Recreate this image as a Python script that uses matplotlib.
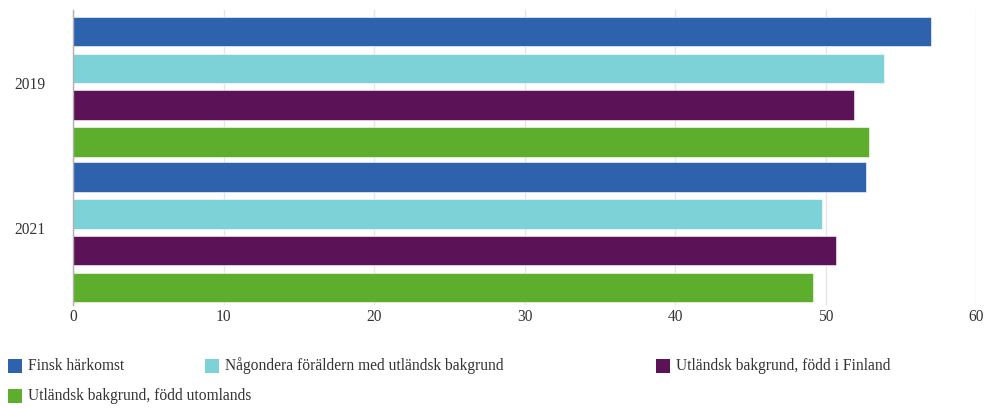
import matplotlib
matplotlib.use("Agg")
import matplotlib.pyplot as plt
from matplotlib.patches import Rectangle
import matplotlib.transforms as mtransforms
import numpy as np

years = ["2019", "2021"]
series_names = [
    "Finsk härkomst",
    "Någondera föräldern med utländsk bakgrund",
    "Utländsk bakgrund, född i Finland",
    "Utländsk bakgrund, född utomlands",
]
finsk = [57.0, 52.7]
nagondera = [53.9, 49.8]
utl_finland = [51.9, 50.7]
utl_utomlands = [52.9, 49.2]
series_values = [finsk, nagondera, utl_finland, utl_utomlands]
colors = ["#2F62AD", "#7DD2D8", "#5B1256", "#5EAE2E"]
x_ticks = [0, 10, 20, 30, 40, 50, 60]

plt.rcParams["font.family"] = ["Liberation Serif", "DejaVu Serif"]
FS = 11.2

W, H = 986, 408
fig = plt.figure(figsize=(W / 100, H / 100), dpi=100)
ax_left, ax_right, ax_top, ax_bottom = 73, 976, 10, 305
ax = fig.add_axes([ax_left / W, 1 - ax_bottom / H, (ax_right - ax_left) / W, (ax_bottom - ax_top) / H])

pitch = 0.253
bar_h = 0.203
y = np.arange(len(years))
for i, (vals, c) in enumerate(zip(series_values, colors)):
    off = (i - 1.5) * pitch
    ax.barh(y + off, vals, height=bar_h, color=c, edgecolor="#ffffff", linewidth=0.4, zorder=3)

ax.set_xlim(0, 60)
ax.set_ylim(1.5, -0.527)
ax.set_xticks(x_ticks)
ax.set_xticklabels([str(t) for t in x_ticks], fontsize=FS, color="#333333")
ax.set_yticks(y)
ax.set_yticklabels(years, fontsize=FS, color="#333333")
ax.tick_params(axis="y", length=0, pad=20)
ax.tick_params(axis="x", length=0, pad=3)
for lbl in ax.get_yticklabels():
    lbl.set_transform(lbl.get_transform() + mtransforms.ScaledTranslation(0, 4 / 100, fig.dpi_scale_trans))

ax.grid(axis="x", color="#e6e6e6", linewidth=1, zorder=0)
for s in ["top", "right", "bottom"]:
    ax.spines[s].set_visible(False)
ax.spines["left"].set_color("#b0b0b0")
ax.spines["left"].set_linewidth(1)
ax.spines["left"].set_zorder(5)

# legend (manual layout)
leg_pos = [(8, 366), (205, 366), (656, 366), (8, 396)]
sq = 14
for (px, py), name, c in zip(leg_pos, series_names, colors):
    fig.patches.append(Rectangle((px / W, 1 - (py + sq / 2) / H), sq / W, sq / H,
                                 transform=fig.transFigure, facecolor=c, edgecolor="none"))
    fig.text((px + sq + 6) / W, 1 - py / H, name, fontsize=FS, color="#333333",
             va="center", ha="left")

fig.savefig("out.png", dpi=100)
